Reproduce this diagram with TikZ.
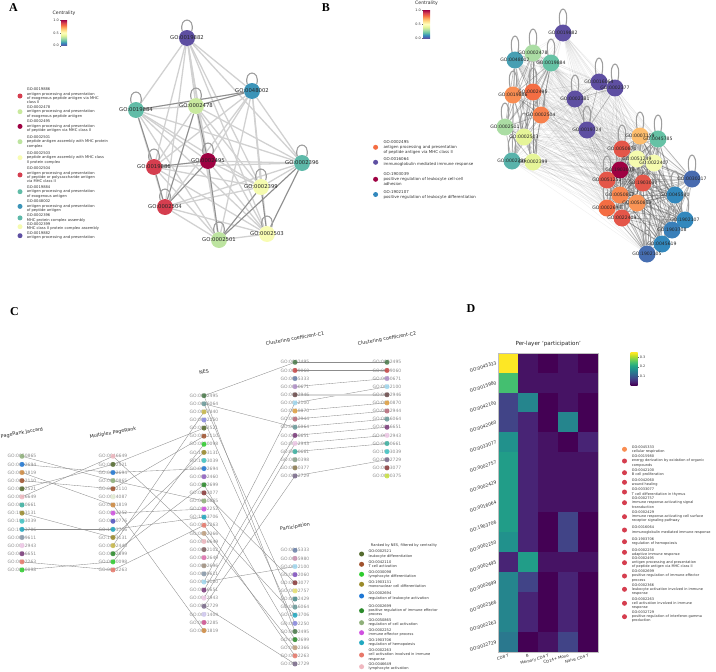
\documentclass[tikz,border=0pt]{standalone}
\usepackage{fontspec}
\setmainfont{DejaVu Sans}
\newfontfamily\panelfont{Liberation Serif}
\usetikzlibrary{positioning,backgrounds}

\definecolor{sp0}{HTML}{5E4FA2}\definecolor{sp1}{HTML}{3288BD}\definecolor{sp2}{HTML}{66C2A5}
\definecolor{sp3}{HTML}{ABDDA4}\definecolor{sp4}{HTML}{E6F598}\definecolor{sp5}{HTML}{FFFFBF}
\definecolor{sp6}{HTML}{FEE08B}\definecolor{sp7}{HTML}{FDAE61}\definecolor{sp8}{HTML}{F46D43}
\definecolor{sp9}{HTML}{D53E4F}\definecolor{sp10}{HTML}{9E0142}
\definecolor{vir0}{HTML}{440154}\definecolor{vir1}{HTML}{482475}\definecolor{vir2}{HTML}{414487}
\definecolor{vir3}{HTML}{355F8D}\definecolor{vir4}{HTML}{2A788E}\definecolor{vir5}{HTML}{21918C}
\definecolor{vir6}{HTML}{22A884}\definecolor{vir7}{HTML}{44BF70}\definecolor{vir8}{HTML}{7AD151}
\definecolor{vir9}{HTML}{BDDF26}\definecolor{vir10}{HTML}{FDE725}
\colorlet{vir05}{vir0!50!vir1}\colorlet{vir45}{vir4!50!vir5}\colorlet{vir55}{vir5!50!vir6}

\definecolor{t0050865}{HTML}{8FB07A}\definecolor{t0002694}{HTML}{1F77D4}\definecolor{t0001819}{HTML}{D08A40}
\definecolor{t0042110}{HTML}{A0522D}\definecolor{t0002521}{HTML}{556B2F}\definecolor{t0046649}{HTML}{F0B8C0}
\definecolor{t0030661}{HTML}{3AB0A0}\definecolor{t1903131}{HTML}{9A8A2A}\definecolor{t1903039}{HTML}{3FC4C4}
\definecolor{t1903706}{HTML}{20A8C0}\definecolor{t0009611}{HTML}{8899AA}\definecolor{t0032943}{HTML}{F0C8E8}
\definecolor{t0046651}{HTML}{7A3A7A}\definecolor{t0002263}{HTML}{E8786A}\definecolor{t0030098}{HTML}{2ECC2E}
\definecolor{t0034087}{HTML}{E3EDD3}\definecolor{t0002252}{HTML}{D050E0}\definecolor{t0050776}{HTML}{5050C0}
\definecolor{t0002440}{HTML}{C8B848}\definecolor{t0002699}{HTML}{2A8A2A}\definecolor{t0002495}{HTML}{4A7A4A}
\definecolor{t0016064}{HTML}{6A9A9A}\definecolor{t0002250}{HTML}{8A8AE0}\definecolor{t0002460}{HTML}{9060C0}
\definecolor{t0033077}{HTML}{8A3A3A}\definecolor{t0002366}{HTML}{C0A080}\definecolor{t0042102}{HTML}{806060}
\definecolor{t0032649}{HTML}{E070B0}\definecolor{t0002696}{HTML}{A09080}\definecolor{t0042100}{HTML}{A0D8F0}
\definecolor{t0032729}{HTML}{7A6A8A}\definecolor{t0071404}{HTML}{D0C8F0}\definecolor{t0002285}{HTML}{D05090}
\definecolor{t0009060}{HTML}{C84848}\definecolor{t0045333}{HTML}{6A80A8}\definecolor{t0050671}{HTML}{B090C8}
\definecolor{t0002946}{HTML}{6A4A4A}\definecolor{t0050870}{HTML}{E0A040}\definecolor{t0032944}{HTML}{B86A7A}
\definecolor{t0030398}{HTML}{8AA08A}\definecolor{t0050377}{HTML}{8A7A50}\definecolor{t0000375}{HTML}{C8E040}
\definecolor{t0015980}{HTML}{C890B0}\definecolor{t0042060}{HTML}{8050C0}\definecolor{t0002757}{HTML}{E8E070}
\definecolor{t0002429}{HTML}{4A8A8A}

\pgfdeclareverticalshading{spectralbar}{100bp}{color(0bp)=(sp0); color(25bp)=(sp0); color(30bp)=(sp1);
  color(35bp)=(sp2); color(40bp)=(sp3); color(45bp)=(sp4); color(50bp)=(sp5); color(55bp)=(sp6);
  color(60bp)=(sp7); color(65bp)=(sp8); color(70bp)=(sp9); color(75bp)=(sp10); color(100bp)=(sp10)}
\pgfdeclareverticalshading{viridisbar}{100bp}{color(0bp)=(vir0); color(25bp)=(vir0); color(30bp)=(vir1);
  color(35bp)=(vir2); color(40bp)=(vir3); color(45bp)=(vir4); color(50bp)=(vir5); color(55bp)=(vir6);
  color(60bp)=(vir7); color(65bp)=(vir8); color(70bp)=(vir9); color(75bp)=(vir10); color(100bp)=(vir10)}

\newcommand\idsA{0019882,0048002,0019884,0002478,0019886,0002495,0002396,0002399,0002504,0002501,0002503}
\newcommand\idsB{0019882,0002478,0048002,0019884,0019886,0002495,0002504,0002501,0002503,0002396,0002399,0002381,0019724,0016064,0002377,0007159,0045785,0050870,0051249,0022407,1903039,0051251,1903037,0050867,0050863,0002694,0022409,0030217,0045580,1902107,1903708,0045619,1902105}
\newcommand\clusBa{0002478,0048002,0019884,0019886,0002495,0002504,0002501,0002503,0002396,0002399}
\newcommand\clusBb{0002381,0019724,0016064,0002377}
\newcommand\clusBc{0007159,0045785,0050870,0051249,0022407,1903039,0051251,1903037,0050867,0050863,0002694,0022409,0030217,0045580,1902107,1903708,0045619,1902105}

\newcommand\selfloop[4]{\draw[loopline] (#1.#3) .. controls +(-4,-#2) and +(4,-#2) .. (#1.#4);}
\newcommand\allpairs[3]{\foreach \u [count=\i] in #1 {\foreach \v [count=\j] in #1 {\ifnum\j>\i \draw[#3] (#2\u) -- (#2\v);\fi}}}

\tikzset{
  panel/.style={font=\panelfont\bfseries\fontsize{12}{12}\selectfont, inner sep=0pt},
  anode/.style={circle, minimum size=16pt, inner sep=0pt},
  bnode/.style={circle, minimum size=17pt, inner sep=0pt},
  alabel/.style={font=\fontsize{5.3}{6}\selectfont, text=black!85, inner sep=0pt},
  blabel/.style={font=\fontsize{4.6}{5}\selectfont, text=black!85, inner sep=0pt},
  aedge/.style={draw=black!18, line width=1.3pt},
  aedgedark/.style={draw=black!45, line width=0.9pt},
  bedge/.style={draw=black, opacity=0.06, line width=0.5pt},
  bedgedark/.style={draw=black!65, opacity=0.35, line width=0.7pt},
  loopline/.style={draw=black!38, line width=1.1pt},
  cbar/.style={font=\fontsize{3.4}{4}\selectfont, text=black!80, inner sep=0.5pt},
  cbartitle/.style={font=\fontsize{4.6}{5}\selectfont, text=black!85, inner sep=0pt},
  legA/.style={anchor=west, align=left, inner sep=0pt, font=\fontsize{3.7}{4.4}\selectfont, text=black!80},
  legB/.style={anchor=west, align=left, inner sep=0pt, font=\fontsize{4}{5}\selectfont, text=black!80},
  legC/.style={anchor=west, align=left, inner sep=0pt, font=\fontsize{3.6}{4.3}\selectfont, text=black!80},
  legD/.style={anchor=west, align=left, inner sep=0pt, font=\fontsize{3.5}{4.2}\selectfont, text=black!80},
  legdot/.style={circle, minimum size=5pt, inner sep=0pt},
  termtext/.style={font=\fontsize{4.5}{5}\selectfont, text=black!45, inner sep=0pt},
  termdot/.style={circle, minimum size=5pt, inner sep=0pt, opacity=0.85},
  colhead/.style={font=\fontsize{4.8}{5}\selectfont, text=black!85, rotate=10},
  link/.style={draw=black!45, line width=0.35pt},
  linkwide/.style={draw=black!15, line width=1.6pt},
  rowlab/.style={font=\fontsize{4.4}{5}\selectfont, text=black!85, anchor=east, rotate=18, inner sep=0pt},
  collab/.style={font=\fontsize{3.9}{4.5}\selectfont, text=black!85, anchor=north east, rotate=15, inner sep=0pt},
}

\begin{document}
\begin{tikzpicture}[x=1pt,y=-1pt]
\useasboundingbox (0,0) rectangle (716,672);

\node[panel] (pA) at (13.5,8) {A};
\node[panel] (pB) at (326,8) {B};
\node[panel] (pC) at (14.5,312) {C};
\node[panel] (pD) at (471,309) {D};

% panel A
\shade[shading=spectralbar] (61,20) rectangle (67,45.7);
\node[cbartitle] (cta) at (64,13.5) {Centrality};
\foreach \y/\t in {20/1.0,32.85/0.5,45.7/0.0} {
  \draw[black!60, line width=0.3pt] (61,\y) -- (59.8,\y);
  \node[cbar, anchor=east] at (59.6,\y) {\t};
}

\path
  (187,38) node[anode, fill=sp0] (a0019882) {}
  (252,91) node[anode, fill=sp1!80!sp2] (a0048002) {}
  (136,110) node[anode, fill=sp2!90!sp1] (a0019884) {}
  (196,106) node[anode, fill=sp3!50!sp4] (a0002478) {}
  (154,167) node[anode, fill=sp9] (a0019886) {}
  (208,161) node[anode, fill=sp10] (a0002495) {}
  (302,163) node[anode, fill=sp2!85!sp1] (a0002396) {}
  (261,187) node[anode, fill=sp4!40!sp5] (a0002399) {}
  (165,207) node[anode, fill=sp9] (a0002504) {}
  (219,240) node[anode, fill=sp3!70!sp4] (a0002501) {}
  (267,234) node[anode, fill=sp5!70!sp4] (a0002503) {};
\foreach \id in \idsA \node[alabel] (at\id) at (a\id) {GO:\id};

\begin{pgfonlayer}{background}
  \allpairs{\idsA}{a}{aedge}
  \foreach \u/\v in {0019884/0019886,0019886/0002504,0002504/0002495,0002478/0002495,0002399/0002503,
    0002501/0002399,0002501/0002396,0019884/0048002,0002478/0048002,0002495/0002501,0019886/0002495,
    0002478/0002504,0002396/0002503}
    \draw[aedgedark] (a\u) -- (a\v);
  \foreach \id in \idsA {\selfloop{a\id}{15}{125}{55}}
\end{pgfonlayer}

\node[legA] (la1) at (26.7,96) {GO:0019886\\antigen processing and presentation\\of exogenous peptide antigen via MHC\\class II};
\node[legdot, fill=sp9, left=4pt of la1] (da1) {};
\node[legA] (la2) at (26.7,111.7) {GO:0002478\\antigen processing and presentation\\of exogenous peptide antigen};
\node[legdot, fill=sp3!50!sp4, left=4pt of la2] (da2) {};
\node[legA] (la3) at (26.7,126.4) {GO:0002495\\antigen processing and presentation\\of peptide antigen via MHC class II};
\node[legdot, fill=sp10, left=4pt of la3] (da3) {};
\node[legA] (la4) at (26.7,141.7) {GO:0002501\\peptide antigen assembly with MHC protein\\complex};
\node[legdot, fill=sp3!70!sp4, left=4pt of la4] (da4) {};
\node[legA] (la5) at (26.7,157.7) {GO:0002503\\peptide antigen assembly with MHC class\\II protein complex};
\node[legdot, fill=sp5!70!sp4, left=4pt of la5] (da5) {};
\node[legA] (la6) at (26.7,174.9) {GO:0002504\\antigen processing and presentation\\of peptide or polysaccharide antigen\\via MHC class II};
\node[legdot, fill=sp9, left=4pt of la6] (da6) {};
\node[legA] (la7) at (26.7,191.7) {GO:0019884\\antigen processing and presentation\\of exogenous antigen};
\node[legdot, fill=sp2!90!sp1, left=4pt of la7] (da7) {};
\node[legA] (la8) at (26.7,206.4) {GO:0048002\\antigen processing and presentation\\of peptide antigen};
\node[legdot, fill=sp1!80!sp2, left=4pt of la8] (da8) {};
\node[legA] (la9) at (26.7,217.9) {GO:0002396\\MHC protein complex assembly};
\node[legdot, fill=sp2!85!sp1, left=4pt of la9] (da9) {};
\node[legA] (la10) at (26.7,226.7) {GO:0002399\\MHC class II protein complex assembly};
\node[legdot, fill=sp4!40!sp5, left=4pt of la10] (da10) {};
\node[legA] (la11) at (26.7,235.7) {GO:0019882\\antigen processing and presentation};
\node[legdot, fill=sp0, left=4pt of la11] (da11) {};

% panel B
\shade[shading=spectralbar] (423,10) rectangle (430,38.3);
\node[cbartitle] (ctb) at (426.5,3) {Centrality};
\foreach \y/\t in {10/1.0,24.15/0.5,38.3/0.0} {
  \draw[black!60, line width=0.3pt] (423,\y) -- (421.8,\y);
  \node[cbar, anchor=east] at (421.6,\y) {\t};
}

\path
  (563,33) node[bnode, fill=sp0] (b0019882) {}
  (533,53) node[bnode, fill=sp3] (b0002478) {}
  (515,60) node[bnode, fill=sp1!60!sp2] (b0048002) {}
  (551,63) node[bnode, fill=sp2] (b0019884) {}
  (513,95) node[bnode, fill=sp7!50!sp8] (b0019886) {}
  (533,92) node[bnode, fill=sp8] (b0002495) {}
  (541,115) node[bnode, fill=sp8!70!sp7] (b0002504) {}
  (505,127) node[bnode, fill=sp3] (b0002501) {}
  (524,137) node[bnode, fill=sp4] (b0002503) {}
  (512,161) node[bnode, fill=sp2!75!sp1] (b0002396) {}
  (533,162) node[bnode, fill=sp4] (b0002399) {}
  (575,99) node[bnode, fill=sp0] (b0002381) {}
  (587,130) node[bnode, fill=sp0] (b0019724) {}
  (599,82) node[bnode, fill=sp0] (b0016064) {}
  (615,88) node[bnode, fill=sp0] (b0002377) {}
  (640,136) node[bnode, fill=sp7!70!sp6] (b0007159) {}
  (658,139) node[bnode, fill=sp2] (b0045785) {}
  (622,149) node[bnode, fill=sp9!50!sp8] (b0050870) {}
  (637,159) node[bnode, fill=sp5!60!sp4] (b0051249) {}
  (654,163) node[bnode, fill=sp5!60!sp4] (b0022407) {}
  (620,170) node[bnode, fill=sp10] (b1903039) {}
  (607,180) node[bnode, fill=sp9!50!sp8] (b0051251) {}
  (643,183) node[bnode, fill=sp9!50!sp8] (b1903037) {}
  (620,195) node[bnode, fill=sp8!60!sp7] (b0050867) {}
  (637,203) node[bnode, fill=sp7!60!sp8] (b0050863) {}
  (607,208) node[bnode, fill=sp8] (b0002694) {}
  (622,218) node[bnode, fill=sp9!50!sp8] (b0022409) {}
  (692,179) node[bnode, fill=sp0!50!sp1] (b0030217) {}
  (675,195) node[bnode, fill=sp1] (b0045580) {}
  (685,220) node[bnode, fill=sp1] (b1902107) {}
  (672,230) node[bnode, fill=sp1!85!sp0] (b1903708) {}
  (662,244) node[bnode, fill=sp1] (b0045619) {}
  (647,254) node[bnode, fill=sp1!55!sp0] (b1902105) {};
\foreach \id in \idsB \node[blabel] (bt\id) at (b\id) {GO:\id};

\begin{pgfonlayer}{background}
  \allpairs{\idsB}{b}{bedge}
  \allpairs{\clusBa}{b}{bedgedark}
  \allpairs{\clusBb}{b}{bedgedark}
  \allpairs{\clusBc}{b}{bedgedark}
  \foreach \id in \idsB {\selfloop{b\id}{21}{110}{70}}
\end{pgfonlayer}

\node[legB] (lb1) at (383.3,147.3) {GO:0002495\\antigen processing and presentation\\of peptide antigen via MHC class II};
\node[legdot, fill=sp8, left=5pt of lb1] (db1) {};
\node[legB] (lb2) at (383.3,162.3) {GO:0016064\\immunoglobulin mediated immune response};
\node[legdot, fill=sp0, left=5pt of lb2] (db2) {};
\node[legB] (lb3) at (383.3,179.3) {GO:1903039\\positive regulation of leukocyte cell-cell\\adhesion};
\node[legdot, fill=sp10, left=5pt of lb3] (db3) {};
\node[legB] (lb4) at (383.3,194.5) {GO:1902107\\positive regulation of leukocyte differentiation};
\node[legdot, fill=sp1, left=5pt of lb4] (db4) {};

% panel C
\node[colhead] (hpj) at (22,433) {PageRank Jaccard};
\node[colhead] (hmp) at (113,433) {Multiplex PageRank};
\node[colhead] (hnes) at (204,372) {NES};
\node[colhead] (hca) at (295,339) {Clustering coefficient-C1};
\node[colhead] (hcb) at (387,339) {Clustering coefficient-C2};
\node[colhead] (hpa) at (295,527) {Participation};

\foreach \go [count=\i] in {0050865,0002694,0001819,0042110,0002521,0046649,0030661,1903131,1903039,
    1903706,0009611,0032943,0046651,0002263,0030098} {
  \node[termtext] (pjt\i) at (22,{456.3+(\i-1)*8.12}) {GO:\go};
  \node[termdot, fill=t\go] (pj\i) at (pjt\i) {};
}
\foreach \go [count=\i] in {0046649,0002521,0002694,0050865,0042110,0034087,0001819,0002252,0050776,
    1903706,1903131,0002440,0002699,0030098,0002263} {
  \node[termtext] (mpt\i) at (113,{456.3+(\i-1)*8.12}) {GO:\go};
  \node[termdot, fill=t\go] (mp\i) at (mpt\i) {};
}
\foreach \go [count=\i] in {0002495,0016064,0002440,0002250,0002521,0042110,0030098,1903131,1903039,
    0002694,0002460,0002699,0033077,0050865,0002252,1903706,0002263,0002366,0046649,0042102,0032649,
    0002696,0009611,0042100,0046651,0032943,0032729,0071404,0002285,0001819} {
  \node[termtext] (nest\i) at (204,{395.7+(\i-1)*8.1}) {GO:\go};
  \node[termdot, fill=t\go] (nes\i) at (nest\i) {};
}
\foreach \go [count=\i] in {0002495,0009060,0045333,0050671,0002946,0042100,0050870,0032944,0016064,
    0046651,0032943,0030661,0030398,0050377,0032729} {
  \node[termtext] (cat\i) at (295,{362.3+(\i-1)*8.12}) {GO:\go};
  \node[termdot, fill=t\go] (ca\i) at (cat\i) {};
}
\foreach \go [count=\i] in {0002495,0009060,0050671,0042100,0002946,0050870,0032944,0016064,0046651,
    0032943,0030661,1903039,0032729,0033077,0000375} {
  \node[termtext] (cbt\i) at (387,{362.3+(\i-1)*8.12}) {GO:\go};
  \node[termdot, fill=t\go] (cb\i) at (cbt\i) {};
}
\foreach \go [count=\i] in {0045333,0015980,0042100,0042060,0033077,0002757,0002429,0016064,1903706,
    0002250,0002495,0002699,0002366,0002263,0032729} {
  \node[termtext] (pat\i) at (295,{550.3+(\i-1)*8.12}) {GO:\go};
  \node[termdot, fill=t\go] (pa\i) at (pat\i) {};
}

\begin{pgfonlayer}{background}
  \foreach \p/\q in {1/4,2/3,3/7,4/5,5/2,6/1,8/11,10/10,14/15,15/14}
    \draw[link] (pj\p.center) -- (mp\q.center);
  \foreach \p/\q in {1/19,2/5,3/10,4/14,5/6,7/30,8/15,10/16,11/8,12/3,13/12,14/7,15/17}
    \draw[link] (mp\p.center) -- (nes\q.center);
  \foreach \p/\q in {1/1,2/9,24/6,25/10,26/11,27/15}
    \draw[link] (nes\p.center) -- (ca\q.center);
  \foreach \p/\q in {1/11,2/8,4/10,12/12,13/5,16/9,17/14,18/13,24/3,27/15}
    \draw[link] (nes\p.center) -- (pa\q.center);
  \foreach \p/\q in {1/1,2/2,4/3,6/4,7/6,8/7,9/8,10/9,11/10,12/11,15/13}
    \draw[link] (ca\p.center) -- (cb\q.center);
  \draw[linkwide] (ca5.center) -- (cb5.center);
\end{pgfonlayer}

\node[legC, anchor=center] (lctitle) at (404,546) {Ranked by NES, filtered by centrality};
\node[legC] (lc1) at (368.3,554) {GO:0002521\\leukocyte differentiation};
\node[legdot, fill=t0002521, left=4pt of lc1] (dc1) {};
\node[legC] (lc2) at (368.3,564.3) {GO:0042110\\T cell activation};
\node[legdot, fill=t0042110, left=4pt of lc2] (dc2) {};
\node[legC] (lc3) at (368.3,574.3) {GO:0030098\\lymphocyte differentiation};
\node[legdot, fill=t0030098, left=4pt of lc3] (dc3) {};
\node[legC] (lc4) at (368.3,584.3) {GO:1903131\\mononuclear cell differentiation};
\node[legdot, fill=t1903131, left=4pt of lc4] (dc4) {};
\node[legC] (lc5) at (368.3,596) {GO:0002694\\regulation of leukocyte activation};
\node[legdot, fill=t0002694, left=4pt of lc5] (dc5) {};
\node[legC] (lc6) at (368.3,610.7) {GO:0002699\\positive regulation of immune effector\\process};
\node[legdot, fill=t0002699, left=4pt of lc6] (dc6) {};
\node[legC] (lc7) at (368.3,622.7) {GO:0050865\\regulation of cell activation};
\node[legdot, fill=t0050865, left=4pt of lc7] (dc7) {};
\node[legC] (lc8) at (368.3,632.7) {GO:0002252\\immune effector process};
\node[legdot, fill=t0002252, left=4pt of lc8] (dc8) {};
\node[legC] (lc9) at (368.3,642.7) {GO:1903706\\regulation of hemopoiesis};
\node[legdot, fill=t1903706, left=4pt of lc9] (dc9) {};
\node[legC] (lc10) at (368.3,655) {GO:0002263\\cell activation involved in immune\\response};
\node[legdot, fill=t0002263, left=4pt of lc10] (dc10) {};
\node[legC] (lc11) at (368.3,666.7) {GO:0046649\\lymphocyte activation};
\node[legdot, fill=t0046649, left=4pt of lc11] (dc11) {};

% panel D
\node[font=\fontsize{5.6}{6}\selectfont, text=black!85] (dtitle) at (548.3,344.3) {Per-layer `participation'};
\foreach \go/\va/\vb/\vc/\vd/\ve [count=\rw] in {0045333/10/05/0/05/0, 0015980/7/05/05/05/05,
    0042100/2/45/0/05/0, 0042060/2/1/0/45/0, 0033077/5/1/05/0/1, 0002757/55/1/05/05/05,
    0002429/55/1/05/05/05, 0016064/55/1/05/05/05, 1903706/55/1/0/2/0, 0002250/5/1/0/2/0,
    0002495/1/55/05/05/05, 0002699/45/2/0/1/0, 0002366/45/1/0/1/0, 0002263/45/1/0/1/0,
    0032729/4/0/05/2/0} {
  \foreach \v [count=\cl] in {\va,\vb,\vc,\vd,\ve}
    \fill[vir\v] ({498.3+(\cl-1)*20},{352.7+(\rw-1)*19.93}) rectangle +(20.3,20.2);
  \node[rowlab] (row\rw) at (496.5,{362.7+(\rw-1)*19.93}) {GO:\go};
}
\draw[black!25, line width=0.4pt] (498.3,352.7) rectangle (598.3,651.7);
\foreach \c/\n [count=\cl] in {CD8 T/cd8, B/b, Memory CD4 T/mem, CD14+ Mono/mono, Naive CD4 T/naive}
  \node[collab] (col\n) at ({508.3+(\cl-1)*20},654) {\c};

\shade[shading=viridisbar] (630.7,352.7) rectangle (637.7,385);
\foreach \y/\t in {357.3/0.3,366.7/0.2,376/0.1} {
  \draw[black!60, line width=0.3pt] (637.7,\y) -- (638.9,\y);
  \node[cbar, anchor=west] at (639.1,\y) {\t};
}

\node[legD] (ld1) at (631.7,449.3) {GO:0045333\\cellular respiration};
\node[legdot, fill=sp8!50!sp7, left=4.5pt of ld1] (dd1) {};
\node[legD] (ld2) at (631.7,461) {GO:0015980\\energy derivation by oxidation of organic\\compounds};
\node[legdot, fill=sp9, left=4.5pt of ld2] (dd2) {};
\node[legD] (ld3) at (631.7,472.7) {GO:0042100\\B cell proliferation};
\node[legdot, fill=sp9, left=4.5pt of ld3] (dd3) {};
\node[legD] (ld4) at (631.7,482.3) {GO:0042060\\wound healing};
\node[legdot, fill=sp9, left=4.5pt of ld4] (dd4) {};
\node[legD] (ld5) at (631.7,492) {GO:0033077\\T cell differentiation in thymus};
\node[legdot, fill=sp9, left=4.5pt of ld5] (dd5) {};
\node[legD] (ld6) at (631.7,502.7) {GO:0002757\\immune response-activating signal\\transduction};
\node[legdot, fill=sp9, left=4.5pt of ld6] (dd6) {};
\node[legD] (ld7) at (631.7,516.7) {GO:0002429\\immune response-activating cell surface\\receptor signaling pathway};
\node[legdot, fill=sp9, left=4.5pt of ld7] (dd7) {};
\node[legD] (ld8) at (631.7,530) {GO:0016064\\immunoglobulin mediated immune response};
\node[legdot, fill=sp9, left=4.5pt of ld8] (dd8) {};
\node[legD] (ld9) at (631.7,541.7) {GO:1903706\\regulation of hemopoiesis};
\node[legdot, fill=sp9, left=4.5pt of ld9] (dd9) {};
\node[legD] (ld10) at (631.7,552.3) {GO:0002250\\adaptive immune response};
\node[legdot, fill=sp9, left=4.5pt of ld10] (dd10) {};
\node[legD] (ld11) at (631.7,562.7) {GO:0002495\\antigen processing and presentation\\of peptide antigen via MHC class II};
\node[legdot, fill=sp9, left=4.5pt of ld11] (dd11) {};
\node[legD] (ld12) at (631.7,576) {GO:0002699\\positive regulation of immune effector\\process};
\node[legdot, fill=sp9, left=4.5pt of ld12] (dd12) {};
\node[legD] (ld13) at (631.7,589.3) {GO:0002366\\leukocyte activation involved in immune\\response};
\node[legdot, fill=sp9, left=4.5pt of ld13] (dd13) {};
\node[legD] (ld14) at (631.7,603.3) {GO:0002263\\cell activation involved in immune\\response};
\node[legdot, fill=sp9, left=4.5pt of ld14] (dd14) {};
\node[legD] (ld15) at (631.7,616.7) {GO:0032729\\positive regulation of interferon-gamma\\production};
\node[legdot, fill=sp9, left=4.5pt of ld15] (dd15) {};
\end{tikzpicture}
\end{document}
